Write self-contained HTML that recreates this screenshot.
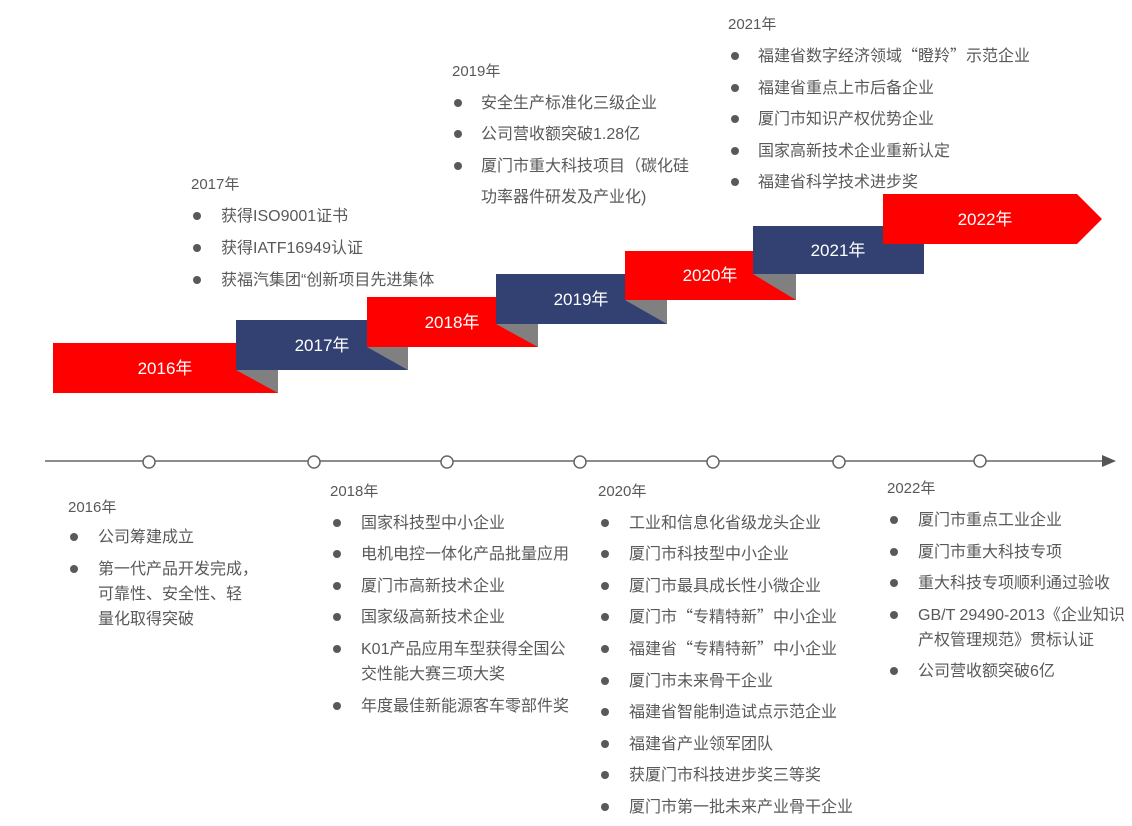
<!DOCTYPE html>
<html><head><meta charset="utf-8"><style>
body{margin:0;width:1132px;height:826px;background:#fff;position:relative;overflow:hidden;font-family:"Liberation Sans","Noto Sans CJK SC",sans-serif;color:#595959;font-size:16px}
.t{position:absolute;line-height:20px;white-space:nowrap;transform:translateY(-9px)}
.y{font-size:15px}
.q{font-family:"Noto Sans CJK SC",sans-serif;transform:translateY(-12px)}
.b{position:absolute;width:8px;height:8px;border-radius:50%;background:#595959;transform:translate(-4px,-4px)}
</style></head><body>
<svg width="1132" height="826" style="position:absolute;left:0;top:0">
<g font-family="Liberation Sans, Noto Sans CJK SC, sans-serif" font-size="17" fill="#fff" text-anchor="middle">
<rect x="53" y="343" width="225" height="50" fill="#ff0000"/>
<text x="165" y="374">2016年</text>
<rect x="236" y="320" width="172" height="50" fill="#334172"/>
<polygon points="236,370 278,370 278,393" fill="#808080"/>
<text x="322" y="351">2017年</text>
<rect x="367" y="297" width="171" height="50" fill="#ff0000"/>
<polygon points="367,347 408,347 408,370" fill="#808080"/>
<text x="452" y="328">2018年</text>
<rect x="496" y="274" width="171" height="50" fill="#334172"/>
<polygon points="496,324 538,324 538,347" fill="#808080"/>
<text x="581" y="305">2019年</text>
<rect x="625" y="251" width="171" height="49" fill="#ff0000"/>
<polygon points="625,300 667,300 667,324" fill="#808080"/>
<text x="710" y="281">2020年</text>
<rect x="753" y="226" width="171" height="48" fill="#334172"/>
<polygon points="753,274 796,274 796,300" fill="#808080"/>
<text x="838" y="256">2021年</text>
<polygon points="883,194 1077,194 1102,219 1077,244 883,244" fill="#ff0000"/>
<text x="985" y="225">2022年</text>
</g>
<line x1="45" y1="461" x2="1103" y2="461" stroke="#666" stroke-width="1.5"/>
<polygon points="1102,455 1116,461 1102,467" fill="#555"/>
<g fill="#fff" stroke="#666" stroke-width="1.5">
<circle cx="149" cy="462" r="6"/><circle cx="314" cy="462" r="6"/><circle cx="447" cy="462" r="6"/><circle cx="580" cy="462" r="6"/><circle cx="713" cy="462" r="6"/><circle cx="839" cy="462" r="6"/><circle cx="980" cy="461" r="6"/>
</g>
</svg>

<div class="t y" style="left:191px;top:184px">2017年</div>
<div class="b" style="left:197px;top:216px"></div><div class="t" style="left:221px;top:216px">获得ISO9001证书</div>
<div class="b" style="left:197px;top:248px"></div><div class="t" style="left:221px;top:248px">获得IATF16949认证</div>
<div class="b" style="left:197px;top:280px"></div><div class="t" style="left:221px;top:280px">获福汽集团“创新项目先进集体</div>

<div class="t y" style="left:452px;top:71px">2019年</div>
<div class="b" style="left:458px;top:103px"></div><div class="t" style="left:481px;top:103px">安全生产标准化三级企业</div>
<div class="b" style="left:458px;top:134px"></div><div class="t" style="left:481px;top:134px">公司营收额突破1.28亿</div>
<div class="b" style="left:458px;top:166px"></div><div class="t" style="left:481px;top:166px">厦门市重大科技项目（碳化硅</div>
<div class="t" style="left:481px;top:197px">功率器件研发及产业化)</div>

<div class="t y" style="left:728px;top:24px">2021年</div>
<div class="b" style="left:735px;top:56px"></div><div class="t q" style="left:758px;top:56px">福建省数字经济领域“瞪羚”示范企业</div>
<div class="b" style="left:735px;top:88px"></div><div class="t" style="left:758px;top:88px">福建省重点上市后备企业</div>
<div class="b" style="left:735px;top:119px"></div><div class="t" style="left:758px;top:119px">厦门市知识产权优势企业</div>
<div class="b" style="left:735px;top:151px"></div><div class="t" style="left:758px;top:151px">国家高新技术企业重新认定</div>
<div class="b" style="left:735px;top:182px"></div><div class="t" style="left:758px;top:182px">福建省科学技术进步奖</div>

<div class="t y" style="left:68px;top:507px">2016年</div>
<div class="b" style="left:74px;top:537px"></div><div class="t" style="left:98px;top:537px">公司筹建成立</div>
<div class="b" style="left:74px;top:569px"></div><div class="t" style="left:98px;top:569px">第一代产品开发完成，</div>
<div class="t" style="left:98px;top:594px">可靠性、安全性、轻</div>
<div class="t" style="left:98px;top:619px">量化取得突破</div>

<div class="t y" style="left:330px;top:491px">2018年</div>
<div class="b" style="left:337px;top:523px"></div><div class="t" style="left:361px;top:523px">国家科技型中小企业</div>
<div class="b" style="left:337px;top:554px"></div><div class="t" style="left:361px;top:554px">电机电控一体化产品批量应用</div>
<div class="b" style="left:337px;top:586px"></div><div class="t" style="left:361px;top:586px">厦门市高新技术企业</div>
<div class="b" style="left:337px;top:617px"></div><div class="t" style="left:361px;top:617px">国家级高新技术企业</div>
<div class="b" style="left:337px;top:649px"></div><div class="t" style="left:361px;top:649px">K01产品应用车型获得全国公</div>
<div class="t" style="left:361px;top:674px">交性能大赛三项大奖</div>
<div class="b" style="left:337px;top:706px"></div><div class="t" style="left:361px;top:706px">年度最佳新能源客车零部件奖</div>

<div class="t y" style="left:598px;top:491px">2020年</div>
<div class="b" style="left:605px;top:523px"></div><div class="t" style="left:629px;top:523px">工业和信息化省级龙头企业</div>
<div class="b" style="left:605px;top:554px"></div><div class="t" style="left:629px;top:554px">厦门市科技型中小企业</div>
<div class="b" style="left:605px;top:586px"></div><div class="t" style="left:629px;top:586px">厦门市最具成长性小微企业</div>
<div class="b" style="left:605px;top:617px"></div><div class="t q" style="left:629px;top:617px">厦门市“专精特新”中小企业</div>
<div class="b" style="left:605px;top:649px"></div><div class="t q" style="left:629px;top:649px">福建省“专精特新”中小企业</div>
<div class="b" style="left:605px;top:681px"></div><div class="t" style="left:629px;top:681px">厦门市未来骨干企业</div>
<div class="b" style="left:605px;top:712px"></div><div class="t" style="left:629px;top:712px">福建省智能制造试点示范企业</div>
<div class="b" style="left:605px;top:744px"></div><div class="t" style="left:629px;top:744px">福建省产业领军团队</div>
<div class="b" style="left:605px;top:775px"></div><div class="t" style="left:629px;top:775px">获厦门市科技进步奖三等奖</div>
<div class="b" style="left:605px;top:807px"></div><div class="t" style="left:629px;top:807px">厦门市第一批未来产业骨干企业</div>

<div class="t y" style="left:887px;top:488px">2022年</div>
<div class="b" style="left:894px;top:520px"></div><div class="t" style="left:918px;top:520px">厦门市重点工业企业</div>
<div class="b" style="left:894px;top:552px"></div><div class="t" style="left:918px;top:552px">厦门市重大科技专项</div>
<div class="b" style="left:894px;top:583px"></div><div class="t" style="left:918px;top:583px">重大科技专项顺利通过验收</div>
<div class="b" style="left:894px;top:615px"></div><div class="t" style="left:918px;top:615px">GB/T 29490-2013《企业知识</div>
<div class="t" style="left:918px;top:640px">产权管理规范》贯标认证</div>
<div class="b" style="left:894px;top:671px"></div><div class="t" style="left:918px;top:671px">公司营收额突破6亿</div>
</body></html>
